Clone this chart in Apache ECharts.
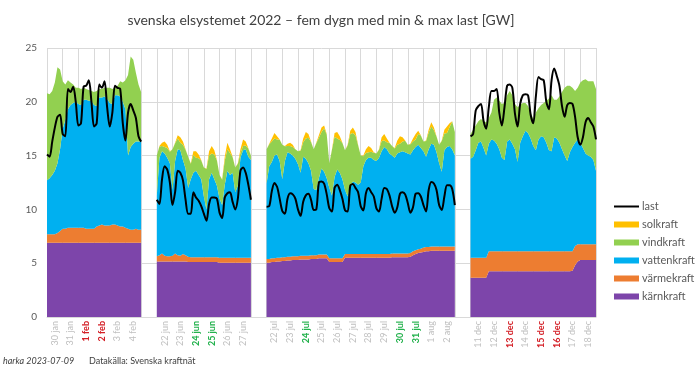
<!DOCTYPE html>
<html>
<head>
<meta charset="utf-8">
<script src="https://cdn.jsdelivr.net/npm/echarts@6/dist/echarts.min.js"></script>
<style>
  html, body { margin: 0; padding: 0; background: #fff; }
  #chart { width: 700px; height: 372px; }
</style>
</head>
<body>
<div id="chart"></div>
<script>
// ------------------------------
// DATA (GW, one value every 4 hours, 00-04-08-12-16-20, plus end of last day)
// ------------------------------

// day slots on the x axis, '' = empty slot between the periods
const days = [
  '30 jan', '31 jan', '1 feb', '2 feb', '3 feb', '4 feb', '',
  '22 jun', '23 jun', '24 jun', '25 jun', '26 jun', '27 jun', '',
  '22 jul', '23 jul', '24 jul', '25 jul', '26 jul', '27 jul', '28 jul', '29 jul', '30 jul', '31 jul', '1 aug', '2 aug', '',
  '11 dec', '12 dec', '13 dec', '14 dec', '15 dec', '16 dec', '17 dec', '18 dec'
];
const maxDays = ['1 feb', '2 feb', '13 dec', '15 dec', '16 dec'];
const minDays = ['24 jun', '25 jun', '24 jul', '30 jul', '31 jul'];
const yTicks = [0, 5, 10, 15, 20, 25];

// --- 30 jan - 4 feb ---
const karnJan = [
  6.9, 6.9, 6.9, 6.9, 6.9, 6.9,
  6.9, 6.9, 6.9, 6.9, 6.9, 6.9,
  6.9, 6.9, 6.9, 6.9, 6.9, 6.9,
  6.9, 6.9, 6.9, 6.9, 6.9, 6.9,
  6.9, 6.9, 6.9, 6.9, 6.9, 6.9,
  6.9, 6.9, 6.9, 6.9, 6.9, 6.9,
  6.9
];
const varmeJan = [
  0.8, 0.8, 0.8, 0.8, 0.9, 1.1,
  1.3, 1.3, 1.4, 1.4, 1.4, 1.4,
  1.4, 1.4, 1.4, 1.3, 1.3, 1.3,
  1.3, 1.5, 1.6, 1.7, 1.6, 1.6,
  1.6, 1.7, 1.7, 1.6, 1.5, 1.5,
  1.4, 1.3, 1.2, 1.2, 1.3, 1.2,
  1.2
];
const vattenJan = [
  5.0, 5.2, 5.5, 5.9, 6.5, 7.6,
  9.3, 10.1, 11.0, 11.4, 11.6, 11.7,
  11.5, 11.4, 11.9, 12.0, 11.9, 11.9,
  11.5, 11.2, 11.9, 11.8, 12.0, 11.8,
  11.4, 11.2, 12.0, 12.1, 12.1, 11.6,
  11.0, 6.8, 7.7, 8.0, 8.1, 8.2,
  8.2
];
const vindJan = [
  8.1, 7.8, 7.8, 8.2, 8.9, 7.4,
  4.4, 3.3, 2.7, 2.1, 1.7, 1.3,
  1.5, 1.5, 1.1, 1.0, 1.0, 0.9,
  1.2, 1.4, 0.8, 0.8, 0.8, 1.0,
  1.4, 1.4, 0.7, 0.9, 1.4, 1.8,
  2.7, 7.5, 8.4, 7.8, 6.4, 5.3,
  4.6
];
const solJan = [
  0, 0, 0, 0, 0, 0,
  0, 0, 0, 0, 0, 0,
  0, 0, 0, 0, 0, 0,
  0, 0, 0, 0, 0, 0,
  0, 0, 0, 0, 0, 0,
  0, 0, 0, 0, 0, 0,
  0
];
const lastJan = [
  15.1, 14.9, 16.3, 17.6, 18.6, 18.8,
  17.0, 16.8, 21.2, 20.9, 21.4, 20.0,
  17.8, 18.0, 21.4, 21.5, 22.0, 20.0,
  17.7, 18.0, 21.6, 21.3, 21.9, 19.5,
  17.7, 19.0, 21.5, 21.3, 21.2, 18.0,
  16.4, 19.0, 19.8, 19.2, 18.5, 16.8,
  16.3
];

// --- 22 jun - 27 jun ---
const karnJun = [
  5.15, 5.15, 5.15, 5.15, 5.15, 5.15,
  5.15, 5.15, 5.15, 5.15, 5.15, 5.15,
  5.1, 5.1, 5.1, 5.1, 5.1, 5.1,
  5.1, 5.1, 5.1, 5.1, 5.1, 5.1,
  5.05, 5.05, 5.05, 5.05, 5.05, 5.05,
  5.05, 5.05, 5.05, 5.05, 5.05, 5.05,
  5.05
];
const varmeJun = [
  0.5, 0.6, 0.75, 0.55, 0.5, 0.5,
  0.55, 0.75, 0.6, 0.55, 0.7, 0.6,
  0.5, 0.45, 0.45, 0.45, 0.45, 0.45,
  0.45, 0.45, 0.45, 0.45, 0.45, 0.45,
  0.45, 0.45, 0.45, 0.45, 0.45, 0.45,
  0.45, 0.45, 0.45, 0.45, 0.45, 0.45,
  0.45
];
const vattenJun = [
  5.65, 9.05, 9.5, 9.5, 9.15, 8.65,
  6.1, 8.6, 9.85, 9.8, 8.75, 8.05,
  6.4, 7.25, 7.85, 8.05, 7.65, 7.25,
  5.65, 4.45, 7.25, 7.85, 7.25, 6.65,
  5.5, 4.9, 6.8, 8.1, 7.7, 7.9,
  6.1, 6.7, 9.3, 10.0, 10.1, 9.4,
  9.1
];
const vindJun = [
  3.7, 1.05, 0.5, 0.6, 0.9, 1.05,
  3.8, 1.65, 1.0, 0.7, 1.4, 1.75,
  2.9, 1.45, 1.65, 1.2, 1.55, 1.75,
  2.7, 3.75, 2.2, 1.8, 2.3, 2.35,
  2.2, 2.35, 2.25, 2.0, 2.05, 1.45,
  2.3, 2.05, 0.45, 0.4, 0.35, 0.75,
  0.4
];
const solJun = [
  0, 0.05, 0.3, 0.5, 0.3, 0.05,
  0, 0.05, 0.3, 0.5, 0.3, 0.05,
  0, 0.05, 0.35, 0.6, 0.35, 0.05,
  0, 0.05, 0.4, 0.7, 0.4, 0.05,
  0, 0.05, 0.35, 0.6, 0.35, 0.05,
  0, 0.05, 0.35, 0.6, 0.35, 0.05,
  0
];
const lastJun = [
  10.9, 10.5, 12.8, 14.0, 13.7, 12.5,
  10.4, 11.6, 13.6, 13.4, 12.7, 10.9,
  9.6, 9.6, 11.6, 11.1, 10.8, 10.3,
  9.6, 8.95, 10.5, 11.1, 11.1, 11.0,
  9.7, 9.2, 11.1, 11.5, 11.6, 10.7,
  10.0, 11.0, 13.6, 13.9, 13.4, 12.3,
  10.9
];

// --- 22 jul - 2 aug ---
const karnJul = [
  5.05, 5.05, 5.1, 5.1, 5.15, 5.15,
  5.2, 5.2, 5.25, 5.25, 5.3, 5.3,
  5.3, 5.35, 5.35, 5.35, 5.35, 5.4,
  5.4, 5.4, 5.45, 5.45, 5.45, 5.45,
  5.1, 5.1, 5.1, 5.1, 5.1, 5.1,
  5.5, 5.5, 5.5, 5.5, 5.5, 5.5,
  5.5, 5.5, 5.5, 5.5, 5.5, 5.5,
  5.5, 5.5, 5.5, 5.5, 5.5, 5.5,
  5.55, 5.55, 5.55, 5.55, 5.55, 5.55,
  5.55, 5.6, 5.75, 5.85, 5.95, 6.0,
  6.05, 6.1, 6.1, 6.15, 6.15, 6.15,
  6.15, 6.15, 6.15, 6.15, 6.15, 6.15,
  6.15
];
const varmeJul = [
  0.35, 0.35, 0.35, 0.35, 0.35, 0.35,
  0.35, 0.35, 0.35, 0.35, 0.35, 0.35,
  0.35, 0.35, 0.35, 0.35, 0.35, 0.35,
  0.35, 0.35, 0.35, 0.35, 0.35, 0.35,
  0.35, 0.35, 0.35, 0.35, 0.35, 0.35,
  0.35, 0.35, 0.35, 0.35, 0.35, 0.35,
  0.35, 0.35, 0.35, 0.35, 0.35, 0.35,
  0.35, 0.35, 0.35, 0.35, 0.35, 0.35,
  0.35, 0.35, 0.35, 0.35, 0.35, 0.35,
  0.35, 0.35, 0.35, 0.35, 0.35, 0.35,
  0.4, 0.4, 0.4, 0.4, 0.4, 0.4,
  0.4, 0.4, 0.4, 0.4, 0.4, 0.4,
  0.4
];
const vattenJul = [
  7.0, 8.6, 8.95, 9.55, 9.6, 9.0,
  7.25, 8.95, 9.7, 9.6, 9.35, 9.05,
  8.55, 7.7, 9.2, 9.0, 8.6, 7.85,
  6.15, 6.05, 7.1, 8.0, 7.7, 7.1,
  6.55, 5.85, 7.55, 8.25, 7.95, 7.35,
  5.95, 5.35, 6.35, 6.75, 6.65, 6.45,
  6.65, 8.15, 8.75, 8.95, 8.95, 8.75,
  8.65, 8.95, 9.55, 9.95, 9.75, 9.35,
  9.1, 8.9, 9.3, 9.4, 9.5, 9.4,
  9.3, 9.15, 9.4, 9.6, 9.7, 9.35,
  8.95, 8.4, 9.1, 9.55, 9.45, 8.75,
  7.75, 6.95, 8.95, 9.25, 9.35, 9.05,
  8.45
];
const vindJul = [
  3.2, 2.05, 1.9, 1.6, 1.4, 1.97,
  3.2, 1.37, 0.6, 0.7, 0.8, 0.88,
  1.2, 2.05, 1.35, 1.9, 2.35, 2.67,
  3.7, 4.35, 3.75, 3.4, 4.05, 4.07,
  2.3, 4.25, 3.75, 2.9, 3.05, 3.37,
  3.7, 4.75, 4.8, 4.5, 4.4, 3.67,
  2.5, 0.95, 0.65, 0.5, 0.55, 0.67,
  0.7, 0.75, 0.95, 0.6, 0.65, 0.97,
  0.9, 0.85, 0.8, 0.8, 0.9, 1.07,
  0.8, 0.95, 0.8, 0.7, 1.0, 1.17,
  0.9, 1.45, 1.55, 1.6, 1.35, 1.47,
  1.7, 2.85, 1.55, 1.3, 1.75, 2.57,
  2.2
];
const solJul = [
  0, 0.05, 0.3, 0.5, 0.3, 0.03,
  0, 0.03, 0.2, 0.3, 0.2, 0.02,
  0, 0.05, 0.35, 0.6, 0.35, 0.03,
  0, 0.05, 0.25, 0.4, 0.25, 0.03,
  0, 0.05, 0.35, 0.6, 0.35, 0.03,
  0, 0.05, 0.3, 0.5, 0.3, 0.03,
  0, 0.05, 0.35, 0.6, 0.35, 0.03,
  0, 0.05, 0.35, 0.6, 0.35, 0.03,
  0, 0.05, 0.4, 0.7, 0.4, 0.03,
  0, 0.05, 0.3, 0.5, 0.3, 0.03,
  0, 0.05, 0.25, 0.4, 0.25, 0.03,
  0, 0.05, 0.35, 0.6, 0.35, 0.03,
  0
];
const lastJul = [
  10.25, 10.3, 11.7, 12.45, 12.1, 11.0,
  9.85, 9.6, 11.0, 11.5, 11.4, 11.0,
  10.0, 9.4, 10.7, 11.3, 11.45, 10.9,
  9.95, 10.0, 12.5, 12.6, 12.4, 11.4,
  10.1, 9.8, 12.0, 12.3, 11.8, 11.0,
  9.9, 9.8, 12.2, 12.35, 12.0, 11.6,
  10.3, 9.9, 11.5, 12.0, 11.6, 11.2,
  10.1, 9.8, 11.0, 12.0, 11.9, 11.3,
  10.3, 9.7, 10.2, 11.45, 11.6, 11.4,
  10.6, 9.7, 10.2, 11.45, 11.5, 11.2,
  10.4, 9.8, 11.8, 12.55, 12.4, 11.8,
  10.4, 9.95, 11.2, 12.25, 12.25, 11.9,
  10.4
];

// --- 11 dec - 18 dec ---
const karnDec = [
  3.65, 3.65, 3.65, 3.65, 3.65, 3.65,
  3.65, 4.25, 4.25, 4.25, 4.25, 4.25,
  4.25, 4.25, 4.25, 4.25, 4.25, 4.25,
  4.25, 4.25, 4.25, 4.25, 4.25, 4.25,
  4.25, 4.25, 4.25, 4.25, 4.25, 4.25,
  4.25, 4.25, 4.25, 4.25, 4.25, 4.25,
  4.25, 4.25, 4.25, 4.3, 4.8, 5.15,
  5.3, 5.3, 5.3, 5.3, 5.3, 5.3,
  5.3
];
const varmeDec = [
  1.85, 1.85, 1.85, 1.85, 1.85, 1.85,
  1.85, 1.85, 1.85, 1.85, 1.85, 1.85,
  1.85, 1.85, 1.85, 1.85, 1.85, 1.85,
  1.85, 1.85, 1.85, 1.85, 1.85, 1.85,
  1.85, 1.85, 1.85, 1.85, 1.85, 1.85,
  1.85, 1.85, 1.85, 1.85, 1.85, 1.85,
  1.85, 1.85, 1.85, 1.8, 1.8, 1.6,
  1.45, 1.45, 1.45, 1.45, 1.45, 1.45,
  1.45
];
const vattenDec = [
  9.2, 9.4, 10.0, 10.7, 10.8, 10.2,
  9.5, 10.0, 10.4, 10.3, 10.0, 9.5,
  8.7, 8.5, 10.2, 10.4, 10.0, 9.5,
  8.3, 10.1, 10.7, 11.2, 11.0, 10.5,
  9.8, 9.4, 10.4, 10.7, 10.6, 10.1,
  9.4, 9.3, 10.6, 10.5, 10.1, 9.5,
  8.9, 8.4, 9.2, 9.7, 9.6, 9.75,
  9.45, 8.95, 8.45, 8.25, 8.15, 7.85,
  6.85
];
const vindDec = [
  2.3, 2.5, 2.3, 2.0, 2.1, 2.5,
  3.1, 2.4, 2.5, 3.8, 4.3, 4.5,
  5.0, 5.3, 4.3, 4.5, 4.5, 4.2,
  5.1, 3.5, 3.1, 2.6, 2.5, 2.4,
  2.5, 3.5, 2.9, 2.9, 3.2, 3.9,
  4.8, 5.2, 3.5, 3.6, 4.3, 5.3,
  6.3, 7.0, 6.2, 5.5, 4.8, 4.8,
  5.6, 6.3, 6.9, 6.9, 7.0, 7.3,
  7.6
];
const solDec = [
  0, 0, 0, 0, 0, 0,
  0, 0, 0, 0, 0, 0,
  0, 0, 0, 0, 0, 0,
  0, 0, 0, 0, 0, 0,
  0, 0, 0, 0, 0, 0,
  0, 0, 0, 0, 0, 0,
  0, 0, 0, 0, 0, 0,
  0, 0, 0, 0, 0, 0,
  0
];
const lastDec = [
  16.8, 17.0, 19.2, 19.6, 19.8, 18.2,
  17.5, 19.5, 21.0, 21.0, 21.2, 19.0,
  17.8, 19.5, 21.5, 21.6, 21.3, 18.9,
  17.7, 19.8, 20.6, 20.7, 20.6, 18.8,
  18.0, 20.5, 22.3, 22.1, 22.0, 20.0,
  19.3, 22.0, 23.1, 22.4, 21.5, 19.6,
  18.6, 19.7, 19.9, 19.8, 18.6, 16.7,
  16.0, 16.7, 18.1, 18.5, 18.1, 17.7,
  16.5
];

// ------------------------------
// BUILD
// ------------------------------
const PER_DAY = 6;
const FONT = 'Lato';
const nCats = days.length * PER_DAY + 1;
const cats = Array.from({ length: nCats }, (_, i) => String(i));

// first day slot of each period
const periodStart = days.reduce((acc, d, i) => {
  if (d && (i === 0 || !days[i - 1])) acc.push(i);
  return acc;
}, []);

// place the period arrays on the shared x axis, nulls in the gaps
let spread = parts => {
  const out = new Array(nCats).fill(null);
  parts.forEach((arr, p) => arr.forEach((v, k) => { out[periodStart[p] * PER_DAY + k] = v; }));
  return out;
};

const areas = [
  { name: 'kärnkraft', color: '#7d45aa', parts: [karnJan, karnJun, karnJul, karnDec] },
  { name: 'värmekraft', color: '#ed7d31', parts: [varmeJan, varmeJun, varmeJul, varmeDec] },
  { name: 'vattenkraft', color: '#00b0f0', parts: [vattenJan, vattenJun, vattenJul, vattenDec] },
  { name: 'vindkraft', color: '#92d050', parts: [vindJan, vindJun, vindJul, vindDec] },
  { name: 'solkraft', color: '#ffc000', parts: [solJan, solJun, solJul, solDec] }
];

let series = areas.map(a => ({
  name: a.name,
  type: 'line',
  stack: 'prod',
  data: spread(a.parts),
  symbol: 'none',
  itemStyle: { color: a.color },
  lineStyle: { width: 0, color: a.color },
  areaStyle: { color: a.color, opacity: 1 }
}));

series.push({
  name: 'last',
  type: 'line',
  data: spread([lastJan, lastJun, lastJul, lastDec]),
  symbol: 'none',
  smooth: 0.3,
  z: 5,
  itemStyle: { color: '#000' },
  lineStyle: { width: 2, color: '#000' }
});

let dayLabel = (value, index) => {
  const d = days[Math.floor(index / PER_DAY)] || '';
  if (maxDays.includes(d)) return '{r|' + d + '}';
  if (minDays.includes(d)) return '{g|' + d + '}';
  return d;
};

const chart = echarts.init(document.getElementById('chart'));
chart.setOption({
  animation: false,
  textStyle: { fontFamily: FONT },
  title: [
    {
      text: 'svenska elsystemet 2022 – fem dygn med min & max last [GW]',
      left: 321, top: 13, textAlign: 'center', padding: 0,
      textStyle: { fontFamily: FONT, fontSize: 14, fontWeight: 'normal', color: '#404040' }
    },
    {
      text: 'harka 2023-07-09', left: 3, top: 357, padding: 0,
      textStyle: { fontFamily: FONT, fontSize: 9, fontStyle: 'italic', fontWeight: 'normal', color: '#404040' }
    },
    {
      text: 'Datakälla: Svenska kraftnät', left: 89, top: 357, padding: 0,
      textStyle: { fontFamily: FONT, fontSize: 9, fontWeight: 'normal', color: '#404040' }
    }
  ],
  legend: {
    orient: 'vertical',
    left: 613, top: 201, padding: 0,
    itemWidth: 25, itemHeight: 6, itemGap: 7,
    selectedMode: false,
    textStyle: { fontFamily: FONT, fontSize: 11, color: '#595959', padding: [0, 0, 0, -2] },
    data: [
      { name: 'last', itemStyle: { opacity: 0 } },
      { name: 'solkraft', icon: 'rect' },
      { name: 'vindkraft', icon: 'rect' },
      { name: 'vattenkraft', icon: 'rect' },
      { name: 'värmekraft', icon: 'rect' },
      { name: 'kärnkraft', icon: 'rect' }
    ]
  },
  grid: { left: 47, top: 48, width: 549, height: 269, containLabel: false },
  xAxis: {
    type: 'category',
    data: cats,
    boundaryGap: false,
    axisLine: { lineStyle: { color: '#d9d9d9' } },
    axisTick: { show: false },
    splitLine: { show: true, interval: i => i % PER_DAY === 0, lineStyle: { color: '#d9d9d9', width: 1 } },
    axisLabel: {
      interval: i => i % PER_DAY === PER_DAY / 2,
      rotate: 90,
      margin: 4,
      fontSize: 9,
      fontFamily: FONT,
      color: '#bfbfbf',
      formatter: dayLabel,
      rich: {
        r: { color: '#d42027', fontWeight: 'bold', fontSize: 9, fontFamily: FONT },
        g: { color: '#22b14c', fontWeight: 'bold', fontSize: 9, fontFamily: FONT }
      }
    }
  },
  yAxis: {
    type: 'value',
    min: yTicks[0], max: yTicks[yTicks.length - 1], interval: yTicks[1] - yTicks[0],
    axisLine: { show: false },
    axisTick: { show: false },
    axisLabel: { color: '#595959', fontSize: 10, fontFamily: FONT, margin: 10 },
    splitLine: { lineStyle: { color: '#d9d9d9' } }
  },
  series: series
});
</script>
</body>
</html>
